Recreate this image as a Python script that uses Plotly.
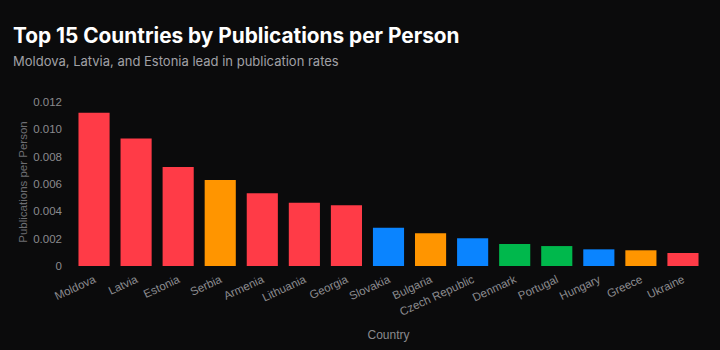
import plotly.graph_objects as go

countries = ["Moldova", "Latvia", "Estonia", "Serbia", "Armenia", "Lithuania", "Georgia",
             "Slovakia", "Bulgaria", "Czech Republic", "Denmark", "Portugal", "Hungary",
             "Greece", "Ukraine"]
pubs_per_person = [0.01122, 0.00934, 0.00724, 0.00629, 0.00532, 0.00463, 0.00444,
                   0.00280, 0.00239, 0.00203, 0.00161, 0.00146, 0.00122, 0.00115, 0.00095]
bar_colors = ["#FF3B47", "#FF3B47", "#FF3B47", "#FF9500", "#FF3B47", "#FF3B47", "#FF3B47",
              "#0A84FF", "#FF9500", "#0A84FF", "#00B84C", "#00B84C", "#0A84FF",
              "#FF9500", "#FF3B47"]
y_ticks = [0, 0.002, 0.004, 0.006, 0.008, 0.010, 0.012]
y_tick_labels = ["0", "0.002", "0.004", "0.006", "0.008", "0.010", "0.012"]

W, H = 720, 350
ml, mr, mt, mb = 73, 16, 98, 84
pw, ph = W - ml - mr, H - mt - mb

def px_x(x):
    return (x - ml) / pw

def px_y(y):
    return (H - mb - y) / ph

fig = go.Figure(go.Bar(
    x=countries, y=pubs_per_person,
    marker=dict(color=bar_colors, line=dict(width=0)),
    hoverinfo="x+y",
))

narrow = "Liberation Sans Narrow, Arial Narrow, Liberation Sans, sans-serif"
fig.update_layout(
    width=W, height=H,
    margin=dict(l=ml, r=mr, t=mt, b=mb),
    paper_bgcolor="#0b0b0c", plot_bgcolor="#0b0b0c",
    bargap=0.26,
    showlegend=False,
    xaxis=dict(
        tickangle=-25, tickfont=dict(family=narrow, size=11.5, color="#8a8a8e"),
        showgrid=False, zeroline=False, showline=False, ticks="",
        ticklabelstandoff=4,
        title=dict(text="Country", font=dict(family=narrow, size=12, color="#8a8a8e"), standoff=13),
    ),
    yaxis=dict(
        range=[0, 0.0123], tickvals=y_ticks, ticktext=y_tick_labels,
        tickfont=dict(family=narrow, size=11.5, color="#8a8a8e"),
        showgrid=False, zeroline=False, showline=False, ticks="",
        ticklabelstandoff=10,
        title=dict(text="Publications per Person", font=dict(family=narrow, size=11.5, color="#6e6e73"), standoff=3),
    ),
    annotations=[
        dict(text="<b>Top 15 Countries by Publications per Person</b>", xref="paper", yref="paper",
             x=px_x(11), y=px_y(21), xanchor="left", yanchor="top", showarrow=False,
             font=dict(family="Inter", size=20.8, color="#ffffff")),
        dict(text="Moldova, Latvia, and Estonia lead in publication rates", xref="paper", yref="paper",
             x=px_x(11), y=px_y(51), xanchor="left", yanchor="top", showarrow=False,
             font=dict(family="Inter", size=13, color="#a1a1a6")),
    ],
)

fig.write_html("out.html")
